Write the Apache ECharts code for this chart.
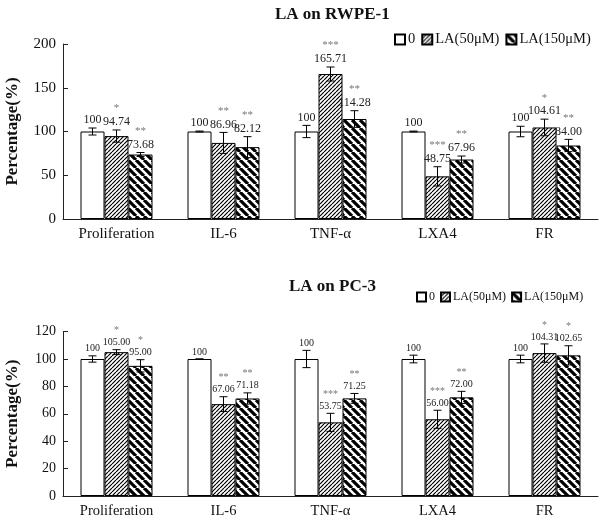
<!DOCTYPE html>
<html>
<head>
<meta charset="utf-8">
<script src="https://cdn.jsdelivr.net/npm/echarts@6/dist/echarts.min.js"></script>
<style>
  html, body { margin: 0; padding: 0; background: #fff; }
  #main { width: 600px; height: 519px; }
</style>
</head>
<body>
<div id="main"></div>
<script>
var categories = ['Proliferation', 'IL-6', 'TNF-α', 'LXA4', 'FR'];
var seriesNames = ['0', 'LA(50μM)', 'LA(150μM)'];

// LA on RWPE-1
var rwpeControl = [100, 100, 100, 100, 100];
var rwpeLA50 = [94.74, 86.96, 165.71, 48.75, 104.61];
var rwpeLA150 = [73.68, 82.12, 114.28, 67.96, 84.00];
var rwpeErrControl = [4, 0.5, 7, 0.5, 6];
var rwpeErrLA50 = [7, 12, 8, 11, 9.5];
var rwpeErrLA150 = [2.3, 12, 9.5, 4, 7];
var rwpeStars50 = ['*', '**', '***', '***', '*'];
var rwpeStars150 = ['**', '**', '**', '**', '**'];

// LA on PC-3
var pcControl = [100, 100, 100, 100, 100];
var pcLA50 = [105.00, 67.06, 53.75, 56.00, 104.31];
var pcLA150 = [95.00, 71.18, 71.25, 72.00, 102.65];
var pcErrControl = [2.3, 0, 6.3, 2.8, 2.8];
var pcErrLA50 = [1.8, 5.4, 6.6, 6.6, 6.7];
var pcErrLA150 = [4.5, 4.1, 3.6, 4.4, 7];
var pcStars50 = ['*', '**', '***', '***', '*'];
var pcStars150 = ['*', '**', '**', '**', '*'];

var FONT = '"Liberation Serif", "Times New Roman", serif';
var BAR_W = 24;

function hatch(size, lw, forward) {
  var c = document.createElement('canvas');
  c.width = c.height = size;
  var ctx = c.getContext('2d');
  ctx.fillStyle = '#fff';
  ctx.fillRect(0, 0, size, size);
  ctx.strokeStyle = '#000';
  ctx.lineWidth = lw;
  ctx.beginPath();
  for (var k = -1; k <= 1; k++) {
    if (forward) {
      ctx.moveTo(k * size, size); ctx.lineTo(k * size + size, 0);
    } else {
      ctx.moveTo(k * size, 0); ctx.lineTo(k * size + size, size);
    }
  }
  ctx.stroke();
  return c;
}

var fills = [
  '#fff',
  { image: hatch(4, 1.2, true), repeat: 'repeat' },
  { image: hatch(8, 3.2, false), repeat: 'repeat' }
];

function buildItems(vals, errs, stars) {
  var items = [];
  for (var g = 0; g < 3; g++) {
    for (var i = 0; i < categories.length; i++) {
      items.push({ value: [i, g, vals[g][i], errs[g][i]], star: stars[g][i] });
    }
  }
  return items;
}

var topItems = buildItems(
  [rwpeControl, rwpeLA50, rwpeLA150],
  [rwpeErrControl, rwpeErrLA50, rwpeErrLA150],
  [['', '', '', '', ''], rwpeStars50, rwpeStars150]
);
var botItems = buildItems(
  [pcControl, pcLA50, pcLA150],
  [pcErrControl, pcErrLA50, pcErrLA150],
  [['', '', '', '', ''], pcStars50, pcStars150]
);

function errRenderer(items, labelSize, starSize) {
  return function (params, api) {
    var cat = api.value(0), grp = api.value(1), v = api.value(2), e = api.value(3);
    var mid = api.coord([cat, v]);
    var x = mid[0] + (grp - 1) * BAR_W;
    var hi = api.coord([cat, v + e])[1];
    var lo = api.coord([cat, v - e])[1];
    var star = items[params.dataIndex].star;
    var txt = v === 100 ? '100' : v.toFixed(2);
    var lineStyle = { stroke: '#000', lineWidth: 1 };
    var children = [
      { type: 'line', shape: { x1: x, y1: hi, x2: x, y2: lo }, style: lineStyle },
      { type: 'line', shape: { x1: x - 4, y1: hi, x2: x + 4, y2: hi }, style: lineStyle },
      { type: 'line', shape: { x1: x - 4, y1: lo, x2: x + 4, y2: lo }, style: lineStyle },
      { type: 'text', style: { text: txt, x: x, y: hi - 2, align: 'center', verticalAlign: 'bottom',
          fontSize: labelSize, fontFamily: FONT, fill: '#222' } }
    ];
    if (star) {
      children.push({ type: 'text', style: { text: star, x: x, y: hi - 2 - labelSize - 2,
        align: 'center', verticalAlign: 'bottom', fontSize: starSize, fontFamily: FONT, fill: '#777' } });
    }
    return { type: 'group', children: children };
  };
}

function xAxisCfg(gi, fs) {
  return {
    type: 'category', gridIndex: gi, data: categories,
    axisLine: { lineStyle: { color: '#222', width: 1 } },
    axisTick: { inside: true, length: 4, lineStyle: { color: '#222' } },
    axisLabel: { color: '#111', fontSize: fs, fontFamily: FONT, margin: 8 },
    splitLine: { show: false }
  };
}

function yAxisCfg(gi, max, interval, fs) {
  return {
    type: 'value', gridIndex: gi, min: 0, max: max, interval: interval,
    name: 'Percentage(%)', nameLocation: 'middle', nameGap: 42,
    nameTextStyle: { fontFamily: FONT, fontWeight: 'bold', fontSize: 17, color: '#111' },
    axisLine: { show: true, lineStyle: { color: '#222', width: 1 } },
    axisTick: { show: true, inside: true, length: 5, lineStyle: { color: '#222' } },
    axisLabel: { color: '#111', fontSize: fs, fontFamily: FONT, margin: 7 },
    splitLine: { show: false }
  };
}

var series = [];
var groups = [[rwpeControl, rwpeLA50, rwpeLA150], [pcControl, pcLA50, pcLA150]];
for (var gi = 0; gi < 2; gi++) {
  for (var s = 0; s < 3; s++) {
    series.push({
      name: seriesNames[s], type: 'bar', xAxisIndex: gi, yAxisIndex: gi,
      data: groups[gi][s], barWidth: BAR_W, barGap: '0%',
      itemStyle: { color: fills[s], borderColor: '#000', borderWidth: 1 },
      emphasis: { disabled: true }, animation: false
    });
  }
}
series.push({
  type: 'custom', xAxisIndex: 0, yAxisIndex: 0, data: topItems, z: 10, clip: false,
  encode: { x: 0, y: 2 }, renderItem: errRenderer(topItems, 12, 11), animation: false
});
series.push({
  type: 'custom', xAxisIndex: 1, yAxisIndex: 1, data: botItems, z: 10, clip: false,
  encode: { x: 0, y: 2 }, renderItem: errRenderer(botItems, 10, 10), animation: false
});

var chart = echarts.init(document.getElementById('main'));
chart.setOption({
  animation: false,
  title: [
    { text: 'LA on RWPE-1', left: 270, top: 1,
      textStyle: { fontFamily: FONT, fontWeight: 'bold', fontSize: 17, color: '#111' } },
    { text: 'LA on PC-3', left: 284, top: 273,
      textStyle: { fontFamily: FONT, fontWeight: 'bold', fontSize: 17, color: '#111' } }
  ],
  legend: [
    { data: seriesNames, left: 394, top: 32, width: 240, orient: 'horizontal',
      itemWidth: 10, itemHeight: 10, itemGap: 6, padding: 0,
      icon: 'rect', selectedMode: false,
      textStyle: { fontFamily: FONT, fontSize: 14.5, color: '#111', padding: [0, 0, 0, -2] } },
    { data: seriesNames, left: 416, top: 291, width: 220, orient: 'horizontal',
      itemWidth: 9, itemHeight: 9, itemGap: 5, padding: 0,
      icon: 'rect', selectedMode: false,
      textStyle: { fontFamily: FONT, fontSize: 12, color: '#111', padding: [0, 0, 0, -2] } }
  ],
  grid: [
    { left: 63, top: 44, width: 535, height: 175, outerBoundsMode: 'none' },
    { left: 63, top: 331.6, width: 535, height: 164.4, outerBoundsMode: 'none' }
  ],
  xAxis: [xAxisCfg(0, 15), xAxisCfg(1, 14.5)],
  yAxis: [yAxisCfg(0, 200, 50, 15), yAxisCfg(1, 120, 20, 14)],
  series: series
});
</script>
</body>
</html>
